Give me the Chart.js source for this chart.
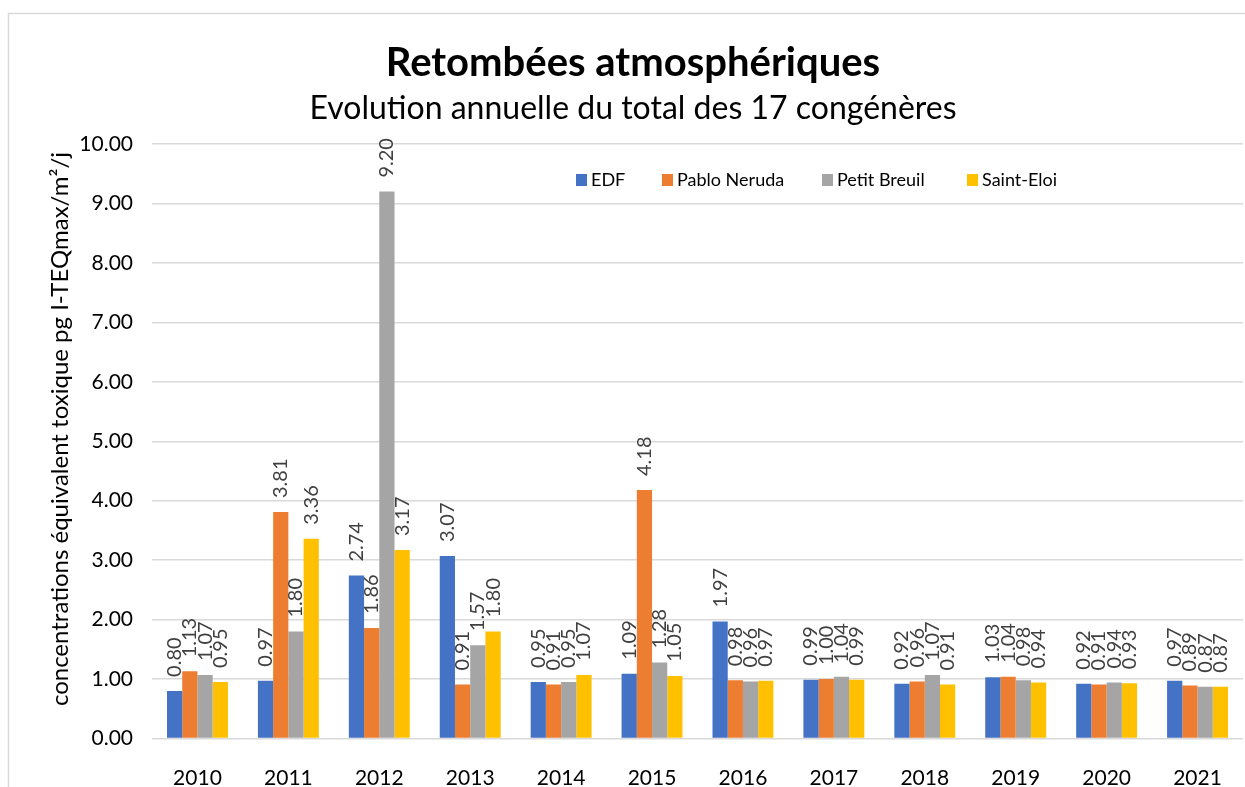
<!DOCTYPE html>
<html>
<head>
<meta charset="utf-8">
<script src="https://cdn.jsdelivr.net/npm/chart.js@4.4.0/dist/chart.umd.min.js"></script>
<style>
  html, body { margin: 0; padding: 0; background: #fff; }
  #graf { display: block; }
</style>
</head>
<body>
<canvas id="graf" width="1245" height="787"></canvas>
<script>
// donnees
let annees = ['2010', '2011', '2012', '2013', '2014', '2015', '2016', '2017', '2018', '2019', '2020', '2021'];
let edf = [0.80, 0.97, 2.74, 3.07, 0.95, 1.09, 1.97, 0.99, 0.92, 1.03, 0.92, 0.97];
let pabloNeruda = [1.13, 3.81, 1.86, 0.91, 0.91, 4.18, 0.98, 1.00, 0.96, 1.04, 0.91, 0.89];
let petitBreuil = [1.07, 1.80, 9.20, 1.57, 0.95, 1.28, 0.96, 1.04, 1.07, 0.98, 0.94, 0.87];
let saintEloi = [0.95, 3.36, 3.17, 1.80, 1.07, 1.05, 0.97, 0.99, 0.91, 0.94, 0.93, 0.87];
let ticksY = [0, 1, 2, 3, 4, 5, 6, 7, 8, 9, 10];

let police = 'Lato, "Noto Sans", sans-serif';

// cadre, titres, legende et etiquettes de valeurs
let decor = {
    id: 'decor',
    beforeDraw: function (chart) {
        let ctx = chart.ctx;
        ctx.save();
        ctx.fillStyle = '#ffffff';
        ctx.fillRect(0, 0, chart.width, chart.height);
        ctx.strokeStyle = '#d9d9d9';
        ctx.lineWidth = 1.5;
        ctx.strokeRect(8.5, 13.5, chart.width + 10, chart.height + 10);
        ctx.restore();
    },
    afterDatasetsDraw: function (chart) {
        let ctx = chart.ctx;
        ctx.save();
        ctx.fillStyle = '#404040';
        ctx.font = '20px ' + police;
        ctx.textAlign = 'left';
        ctx.textBaseline = 'middle';
        chart.data.datasets.forEach(function (ds, i) {
            let meta = chart.getDatasetMeta(i);
            meta.data.forEach(function (barra, j) {
                ctx.save();
                ctx.translate(barra.x, barra.y - 14);
                ctx.rotate(-Math.PI / 2);
                ctx.fillText(ds.data[j].toFixed(2), 0, 0);
                ctx.restore();
            });
        });
        ctx.restore();
    },
    afterDraw: function (chart) {
        let ctx = chart.ctx;
        ctx.save();
        ctx.fillStyle = '#000000';
        ctx.textAlign = 'center';
        ctx.textBaseline = 'middle';
        ctx.font = 'bold 40px ' + police;
        ctx.fillText('Retombées atmosphériques', 633, 63);
        ctx.font = '32px ' + police;
        ctx.fillText('Evolution annuelle du total des 17 congénères', 633, 109);

        // titre de l'axe
        ctx.save();
        ctx.translate(60, 429);
        ctx.rotate(-Math.PI / 2);
        ctx.font = '24px ' + police;
        ctx.fillText('concentrations équivalent toxique pg I-TEQmax/m²/j', 0, 0);
        ctx.restore();

        // legende
        let posLegende = [576, 662, 822, 967];
        ctx.font = '18px ' + police;
        ctx.textAlign = 'left';
        chart.data.datasets.forEach(function (ds, i) {
            ctx.fillStyle = ds.backgroundColor;
            ctx.fillRect(posLegende[i], 174, 11, 12);
            ctx.fillStyle = '#000000';
            ctx.fillText(ds.label, posLegende[i] + 15, 180);
        });
        ctx.restore();
    }
};

let grafico = new Chart(document.getElementById('graf').getContext('2d'), {
    type: 'bar',
    data: {
        labels: annees,
        datasets: [
            { label: 'EDF', data: edf, backgroundColor: '#4472C4' },
            { label: 'Pablo Neruda', data: pabloNeruda, backgroundColor: '#ED7D31' },
            { label: 'Petit Breuil', data: petitBreuil, backgroundColor: '#A5A5A5' },
            { label: 'Saint-Eloi', data: saintEloi, backgroundColor: '#FFC000' }
        ]
    },
    options: {
        responsive: false,
        animation: false,
        devicePixelRatio: 1,
        layout: { padding: { top: 144, right: 2, left: 0, bottom: 0 } },
        datasets: { bar: { categoryPercentage: 0.67, barPercentage: 1.0 } },
        plugins: {
            legend: { display: false },
            title: { display: false },
            tooltip: { enabled: false }
        },
        scales: {
            x: {
                grid: { display: false },
                border: { display: false },
                ticks: { color: '#000', font: { family: police, size: 21 }, padding: 19 },
                afterFit: function (scale) { scale.height = 48.5; }
            },
            y: {
                min: 0,
                max: 10,
                afterBuildTicks: function (scale) {
                    scale.ticks = ticksY.map(function (v) { return { value: v }; });
                },
                ticks: {
                    color: '#000',
                    font: { family: police, size: 21 },
                    padding: 19,
                    callback: function (v) { return Number(v).toFixed(2); }
                },
                grid: { color: '#d9d9d9', lineWidth: 1.5, drawTicks: false },
                border: { display: false },
                afterFit: function (scale) { scale.width = 152; }
            }
        }
    },
    plugins: [decor]
});
</script>
</body>
</html>
